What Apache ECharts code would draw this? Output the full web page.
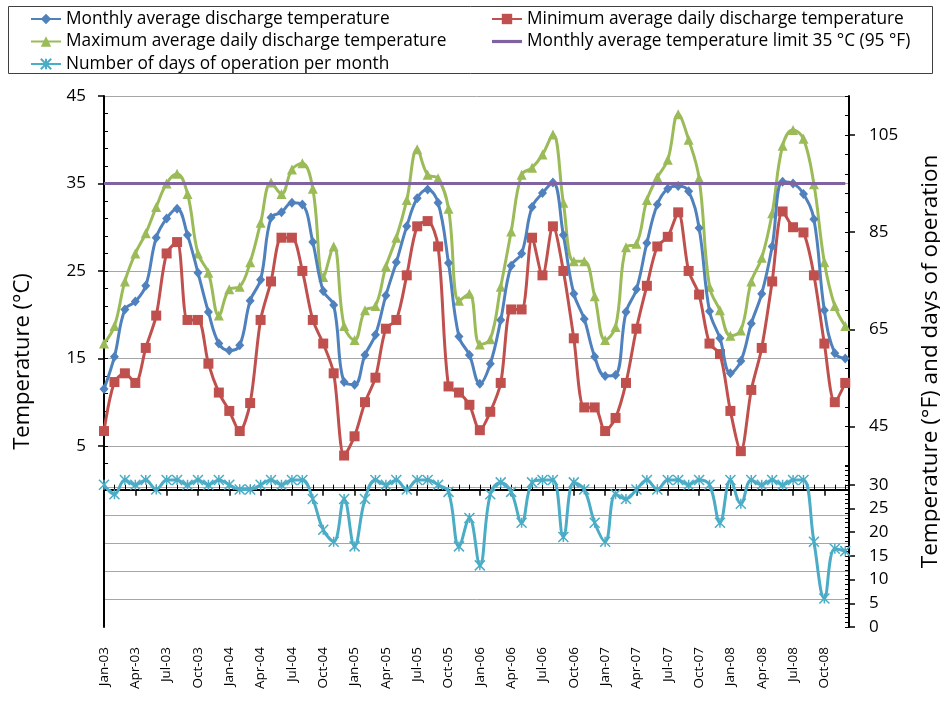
<!DOCTYPE html>
<html><head><meta charset="utf-8">
<script src="https://cdn.jsdelivr.net/npm/echarts@6/dist/echarts.min.js"></script>
<style>html,body{margin:0;padding:0;background:#fff}#c{width:940px;height:706px}</style>
</head><body><div id="c"></div>
<script>
// ---- data ----
const MONTHS = [
 'Jan-03','Feb-03','Mar-03','Apr-03','May-03','Jun-03','Jul-03','Aug-03','Sep-03','Oct-03','Nov-03','Dec-03',
 'Jan-04','Feb-04','Mar-04','Apr-04','May-04','Jun-04','Jul-04','Aug-04','Sep-04','Oct-04','Nov-04','Dec-04',
 'Jan-05','Feb-05','Mar-05','Apr-05','May-05','Jun-05','Jul-05','Aug-05','Sep-05','Oct-05','Nov-05','Dec-05',
 'Jan-06','Feb-06','Mar-06','Apr-06','May-06','Jun-06','Jul-06','Aug-06','Sep-06','Oct-06','Nov-06','Dec-06',
 'Jan-07','Feb-07','Mar-07','Apr-07','May-07','Jun-07','Jul-07','Aug-07','Sep-07','Oct-07','Nov-07','Dec-07',
 'Jan-08','Feb-08','Mar-08','Apr-08','May-08','Jun-08','Jul-08','Aug-08','Sep-08','Oct-08','Nov-08','Dec-08'
];
const MONTHLY_AVG = [
 11.5,15.2,20.6,21.5,23.3,28.8,31.0,32.1,29.1,24.8,20.3,16.7,
 15.9,16.5,21.6,24.0,31.1,31.7,32.8,32.6,28.3,22.7,21.1,12.3,
 12.0,15.4,17.7,22.2,26.0,30.1,33.3,34.3,32.8,25.9,17.5,15.4,
 12.1,14.4,19.4,25.6,27.0,32.3,33.9,35.1,29.1,22.4,19.5,15.2,
 13.0,13.1,20.3,22.9,28.2,32.6,34.4,34.7,34.1,29.9,20.4,17.3,
 13.3,14.7,19.0,22.4,27.8,35.2,35.0,33.8,30.9,20.5,15.6,15.0
];
const MIN_DAILY = [
 6.7,12.3,13.3,12.2,16.2,19.9,27.0,28.3,19.4,19.4,14.4,11.1,
 9.0,6.7,9.9,19.4,23.8,28.8,28.8,25.0,19.4,16.7,13.3,3.9,
 6.1,10.0,12.8,18.4,19.4,24.5,30.1,30.7,27.8,11.8,11.1,9.7,
 6.8,8.9,12.2,20.6,20.6,28.8,24.5,30.1,25.0,17.3,9.4,9.4,
 6.7,8.2,12.2,18.4,23.3,27.8,28.9,31.7,25.0,22.3,16.7,15.5,
 9.0,4.4,11.4,16.2,23.8,31.8,30.0,29.4,24.5,16.7,10.0,12.2
];
const MAX_DAILY = [
 16.7,18.7,23.8,27.0,29.3,32.3,35.0,36.1,33.8,27.0,24.8,19.9,
 22.9,23.2,26.0,30.5,35.1,33.8,36.6,37.3,34.4,24.3,27.8,18.7,
 17.1,20.5,21.0,25.5,28.8,33.1,38.9,36.0,35.6,32.1,21.6,22.4,
 16.6,17.2,23.2,29.5,36.0,36.8,38.3,40.6,32.8,26.1,26.1,22.1,
 17.1,18.6,27.7,28.1,33.1,35.7,37.7,42.9,40.0,35.6,23.2,20.5,
 17.6,18.2,23.8,26.5,31.6,39.3,41.1,40.1,34.9,26.0,21.0,18.7
];
const DAYS_OPERATION = [
 30,28,31,30,31,29,31,31,30,31,30,31,
 30,29,29,30,31,30,31,31,27,20.5,18,27,
 17,27,31,30,31,29,31,31,30,28.5,17,23,
 13,28,30.5,28.5,22,30.5,31,31,19,30.5,29,22,
 18,28,27,29,31,29,31,31,30,31,30,22,
 31,26,31,30,31,30,31,31,18,6,16.5,16
];
const LIMIT_C = 35;
const C_TICKS = [5,15,25,35,45];
const F_TICKS = [45,65,85,105];
const DAY_TICKS = [0,5,10,15,20,25,30];
const NAMES = {
  avg: 'Monthly average discharge temperature',
  min: 'Minimum average daily discharge temperature',
  max: 'Maximum average daily discharge temperature',
  limit: 'Monthly average temperature limit 35 °C (95 °F)',
  days: 'Number of days of operation per month'
};

// ---- axis ranges / helpers ----
const C_MIN = -15.7, C_MAX = 45;
const toF = c => c * 1.8 + 32;
const DAYS_MAX = 112;
const X_MAX = 71.36;
const FONT = 'Open Sans';
const idx = MONTHS.map((m, i) => i);
const X_MAJOR = idx.filter(i => i % 3 === 0);
const C_MINOR = []; for (let v = 3; v <= 43; v += 2) C_MINOR.push(v);
const DAY_MINOR = []; for (let v = 0; v <= 34; v++) DAY_MINOR.push(v);
const F_MINOR = []; for (let v = 37; v <= 113; v += 4) F_MINOR.push(v);
const pairs = arr => arr.map((v, i) => [i, v]);

const BLACK = '#000';
const GRID_GRAY = '#A6A6A6';
const COLORS = { avg: '#4F81BD', min: '#C0504D', max: '#9BBB59', limit: '#7F63A1', days: '#4BACC6' };

const minorAxis = (extra) => Object.assign({
  type: 'value', axisLine: { show: false }, axisLabel: { show: false }, splitLine: { show: false },
  axisTick: { show: true, inside: true, length: 4, lineStyle: { color: BLACK, width: 1 } }
}, extra);

const gridColors = [];
for (let k = 0; k <= 19; k++) gridColors.push(k >= 1 && k <= 5 ? GRID_GRAY : 'rgba(0,0,0,0)');

// right-side labels: fixed-width block with left-aligned content
const rightLabel = (ticks) => ({
  customValues: ticks, margin: 20, align: 'left',
  formatter: v => '{t|' + v + '}',
  rich: { t: { width: 32, align: 'left', fontFamily: FONT, fontSize: 17, color: BLACK } }
});

const legendText = { fontFamily: FONT, fontSize: 17.3, color: BLACK };
const chart = echarts.init(document.getElementById('c'), null, { renderer: 'canvas' });
chart.setOption({
  animation: false,
  backgroundColor: '#fff',
  textStyle: { fontFamily: FONT, color: BLACK },
  grid: { left: 104, right: 91, top: 96, bottom: 79, containLabel: false, outerBoundsMode: 'none' },
  graphic: [{
    type: 'rect', z: -1, silent: true,
    shape: { x: 8.5, y: 6.5, width: 924, height: 67 },
    style: { fill: 'none', stroke: '#404040', lineWidth: 1 }
  }],
  legend: [
    { left: 30, top: 10.5, orient: 'vertical', itemWidth: 30, itemHeight: 13, itemGap: 5.5, padding: 0,
      textStyle: legendText,
      data: [NAMES.avg, NAMES.max, NAMES.days] },
    { left: 491, top: 10.5, orient: 'vertical', itemWidth: 30, itemHeight: 13, itemGap: 5.5, padding: 0,
      textStyle: legendText,
      data: [NAMES.min, { name: NAMES.limit, icon: 'path://M0 0H30V3.2H0Z' }] }
  ],
  xAxis: [
    { type: 'value', min: 0, max: X_MAX, position: 'bottom',
      axisLine: { show: true, lineStyle: { color: BLACK, width: 2 } },
      axisTick: { show: true, customValues: X_MAJOR, length: 6, lineStyle: { color: BLACK, width: 1.5 } },
      axisLabel: { customValues: X_MAJOR, formatter: v => MONTHS[v], rotate: 90, margin: 20,
        align: 'right', verticalAlign: 'middle',
        fontFamily: FONT, fontSize: 13.5, color: BLACK },
      splitLine: { show: false } },
    minorAxis({ min: 0, max: X_MAX, position: 'bottom', axisTick: { show: true, inside: true, length: 5, customValues: idx, lineStyle: { color: BLACK, width: 1 } } })
  ],
  yAxis: [
    { type: 'value', min: C_MIN, max: C_MAX, position: 'left',
      name: 'Temperature (°C)', nameLocation: 'middle', nameGap: 70, nameRotate: 90,
      nameTextStyle: { fontFamily: FONT, fontSize: 22, color: BLACK },
      axisLine: { show: true, lineStyle: { color: BLACK, width: 2 } },
      axisTick: { show: true, customValues: C_TICKS, length: 6, lineStyle: { color: BLACK, width: 1.5 } },
      axisLabel: { customValues: C_TICKS, margin: 18, align: 'right', fontFamily: FONT, fontSize: 17, color: BLACK },
      splitLine: { show: true, lineStyle: { color: GRID_GRAY, width: 1 } } },
    minorAxis({ min: C_MIN, max: C_MAX, position: 'left', axisTick: { show: true, inside: true, length: 4, customValues: C_MINOR, lineStyle: { color: BLACK, width: 1 } } }),
    { type: 'value', min: 0, max: DAYS_MAX, position: 'right',
      name: 'Temperature (°F) and days of operation', nameLocation: 'middle', nameGap: 70, nameRotate: 90,
      nameTextStyle: { fontFamily: FONT, fontSize: 22.5, color: BLACK },
      axisLine: { show: true, lineStyle: { color: BLACK, width: 2 } },
      axisTick: { show: true, customValues: DAY_TICKS, length: 6, lineStyle: { color: BLACK, width: 1.5 } },
      axisLabel: rightLabel(DAY_TICKS),
      splitLine: { show: false } },
    minorAxis({ min: 0, max: DAYS_MAX, position: 'right', axisTick: { show: true, inside: true, length: 4, customValues: DAY_MINOR, lineStyle: { color: BLACK, width: 1 } } }),
    { type: 'value', min: toF(C_MIN), max: toF(C_MAX), position: 'right',
      axisLine: { show: false },
      axisTick: { show: true, customValues: F_TICKS, length: 6, lineStyle: { color: BLACK, width: 1.5 } },
      axisLabel: rightLabel(F_TICKS),
      splitLine: { show: false } },
    minorAxis({ min: toF(C_MIN), max: toF(C_MAX), position: 'right', axisTick: { show: true, inside: true, length: 4, customValues: F_MINOR, lineStyle: { color: BLACK, width: 1 } } }),
    { type: 'value', min: 0, max: 19, interval: 1, position: 'left', show: true,
      axisLine: { show: false }, axisTick: { show: false }, axisLabel: { show: false },
      splitLine: { show: true, lineStyle: { color: gridColors, width: 1 } } }
  ],
  series: [
    { name: NAMES.days, type: 'line', xAxisIndex: 0, yAxisIndex: 2, data: pairs(DAYS_OPERATION),
      smooth: 0.4, showSymbol: true, showAllSymbol: true, z: 3,
      symbol: 'path://M0 0L10 10M10 0L0 10M5 0L5 10', symbolSize: 10,
      lineStyle: { color: COLORS.days, width: 3 },
      itemStyle: { color: 'rgba(0,0,0,0)', borderColor: COLORS.days, borderWidth: 1.5 } },
    { name: NAMES.max, type: 'line', xAxisIndex: 0, yAxisIndex: 0, data: pairs(MAX_DAILY),
      smooth: 0.4, showSymbol: true, showAllSymbol: true, z: 4,
      symbol: 'triangle', symbolSize: 10,
      lineStyle: { color: COLORS.max, width: 3 },
      itemStyle: { color: COLORS.max, borderWidth: 0 } },
    { name: NAMES.min, type: 'line', xAxisIndex: 0, yAxisIndex: 0, data: pairs(MIN_DAILY),
      smooth: 0.3, showSymbol: true, showAllSymbol: true, z: 5,
      symbol: 'rect', symbolSize: 10,
      lineStyle: { color: COLORS.min, width: 3 },
      itemStyle: { color: COLORS.min, borderWidth: 0 } },
    { name: NAMES.avg, type: 'line', xAxisIndex: 0, yAxisIndex: 0, data: pairs(MONTHLY_AVG),
      smooth: 0.4, showSymbol: true, showAllSymbol: true, z: 6,
      symbol: 'diamond', symbolSize: [9, 10],
      lineStyle: { color: COLORS.avg, width: 3 },
      itemStyle: { color: COLORS.avg, borderWidth: 0 } },
    { name: NAMES.limit, type: 'line', xAxisIndex: 0, yAxisIndex: 0,
      data: [[0, LIMIT_C], [MONTHS.length - 1, LIMIT_C]],
      symbol: 'none', z: 7,
      lineStyle: { color: COLORS.limit, width: 3 },
      itemStyle: { color: COLORS.limit } }
  ]
});
</script>
</body></html>
